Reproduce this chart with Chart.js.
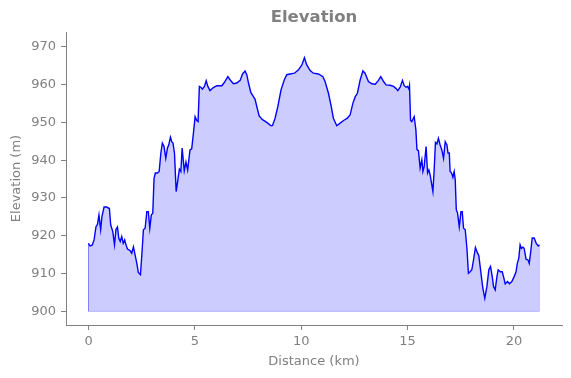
<!DOCTYPE html>
<html><head><meta charset="utf-8">
<script src="https://cdn.jsdelivr.net/npm/chart.js@4.4.1/dist/chart.umd.min.js"></script>
<style>html,body{margin:0;padding:0;background:#fff}canvas{display:block}</style>
</head><body>
<canvas id="c" width="571" height="378"></canvas>
<script>
const distanceKm = [0.00,0.07,0.17,0.26,0.35,0.42,0.49,0.57,0.63,0.73,0.85,0.98,1.04,1.14,1.22,1.29,1.36,1.42,1.49,1.56,1.63,1.70,1.76,1.83,1.95,2.03,2.11,2.19,2.27,2.34,2.44,2.50,2.58,2.66,2.74,2.81,2.88,2.95,3.02,3.08,3.14,3.24,3.32,3.40,3.47,3.55,3.63,3.71,3.77,3.85,3.91,3.97,4.04,4.12,4.20,4.27,4.34,4.40,4.50,4.58,4.66,4.77,4.85,4.93,5.01,5.09,5.15,5.21,5.28,5.35,5.45,5.53,5.61,5.71,5.87,6.03,6.27,6.39,6.55,6.66,6.81,6.97,7.13,7.24,7.36,7.44,7.52,7.63,7.75,7.83,7.91,8.02,8.18,8.38,8.58,8.65,8.77,8.90,9.05,9.20,9.32,9.48,9.68,9.87,10.03,10.15,10.26,10.42,10.57,10.81,11.02,11.12,11.28,11.41,11.51,11.67,11.83,11.99,12.17,12.30,12.43,12.54,12.64,12.77,12.90,13.00,13.16,13.32,13.48,13.63,13.74,13.87,13.99,14.18,14.34,14.45,14.54,14.65,14.76,14.84,14.93,15.00,15.06,15.09,15.14,15.20,15.31,15.39,15.44,15.51,15.59,15.67,15.72,15.78,15.87,15.94,16.00,16.06,16.19,16.25,16.31,16.38,16.45,16.53,16.61,16.69,16.77,16.85,16.90,16.96,17.00,17.07,17.13,17.19,17.24,17.29,17.35,17.43,17.51,17.57,17.63,17.71,17.79,17.86,17.94,18.02,18.10,18.19,18.29,18.35,18.45,18.54,18.63,18.73,18.82,18.90,18.98,19.04,19.12,19.20,19.26,19.36,19.45,19.51,19.59,19.70,19.79,19.90,20.01,20.10,20.16,20.23,20.29,20.35,20.42,20.48,20.57,20.66,20.72,20.79,20.86,20.95,21.05,21.14,21.20];
const elevationM = [918.0,917.3,917.5,918.9,922.4,923.0,925.5,921.6,925.1,927.6,927.6,927.2,922.9,921.1,917.6,921.7,922.3,919.4,918.5,919.8,918.0,918.9,917.6,916.5,916.1,915.4,917.1,914.9,912.7,910.3,909.7,914.5,921.6,922.0,926.4,926.4,922.0,925.5,926.0,935.2,936.6,936.6,937.0,941.9,944.5,943.6,940.5,943.2,944.0,946.1,944.9,944.5,941.9,931.7,934.8,937.6,937.0,943.2,937.2,939.5,937.4,942.7,943.0,947.1,951.5,950.5,950.2,959.5,959.3,958.8,959.5,961.0,959.5,958.4,959.2,959.7,959.7,960.6,962.1,961.2,960.2,960.4,961.1,962.8,963.6,962.6,960.4,957.9,956.8,956.1,954.2,951.7,950.7,950.0,949.1,949.2,951.1,954.2,958.6,961.2,962.6,962.8,963.0,963.9,965.2,967.1,965.2,963.7,963.0,962.8,962.1,960.8,957.7,954.2,951.1,949.1,949.8,950.5,951.1,952.0,955.1,956.8,957.7,961.2,963.6,963.0,960.8,960.2,960.1,961.1,962.1,960.8,959.9,959.8,959.5,959.0,958.4,959.3,961.1,959.7,959.3,959.5,958.8,959.7,950.5,950.2,951.5,948.0,942.8,942.5,937.9,940.1,937.0,938.3,943.6,936.6,937.4,936.1,931.7,937.4,944.7,944.3,945.8,944.0,942.7,940.5,944.9,944.0,941.9,941.9,937.0,936.6,935.5,937.0,934.8,926.9,926.0,922.4,926.4,926.4,922.0,921.6,916.7,910.1,910.5,911.0,913.6,916.9,915.4,914.7,910.1,906.1,903.5,906.6,911.0,911.9,909.2,906.6,905.7,909.2,911.0,910.5,910.5,909.2,907.3,907.9,907.3,907.9,909.2,910.5,912.7,914.1,917.6,916.7,917.0,916.7,913.8,913.6,912.7,915.8,919.4,919.4,918.0,917.3,917.6];
const xTickValues = [0, 5, 10, 15, 20];
const yTickValues = [900, 910, 920, 930, 940, 950, 960, 970];
const baseElevation = 900;
const chartTitle = 'Elevation';
const xAxisTitle = 'Distance (km)';
const yAxisTitle = 'Elevation (m)';

const FONT = "'DejaVu Sans', sans-serif";
const GREY = '#808080';

const profilePoints = distanceKm.map((d, i) => ({x: d, y: elevationM[i]}));
const nLast = distanceKm.length - 1;
const outlinePoints = [
  {x: distanceKm[0], y: elevationM[0]},
  {x: distanceKm[0], y: baseElevation},
  {x: distanceKm[nLast], y: baseElevation},
  {x: distanceKm[nLast], y: elevationM[nLast]}
];

new Chart(document.getElementById('c'), {
  type: 'line',
  data: {
    datasets: [
      {
        data: profilePoints,
        borderColor: '#0000ff',
        borderWidth: 1.4,
        backgroundColor: 'rgba(0,0,255,0.2)',
        fill: {value: baseElevation},
        pointRadius: 0,
        tension: 0,
        order: 0
      },
      {
        data: outlinePoints,
        borderColor: 'rgba(0,0,255,0.2)',
        borderWidth: 1,
        fill: false,
        pointRadius: 0,
        tension: 0,
        order: 1
      }
    ]
  },
  options: {
    responsive: false,
    animation: false,
    devicePixelRatio: 1,
    layout: {padding: {left: 0, right: 9, top: 0, bottom: 0}},
    plugins: {
      legend: {display: false},
      tooltip: {enabled: false},
      title: {display: false}
    },
    scales: {
      xTop: {
        type: 'linear',
        position: 'top',
        min: -1.06,
        max: 22.26,
        afterFit: s => { s.height = 32; },
        grid: {display: false, drawTicks: false},
        border: {display: false},
        ticks: {display: false},
        title: {display: true, text: chartTitle, color: GREY, font: {family: FONT, size: 16.5, weight: 'bold', lineHeight: 1.2}, padding: {top: 8.3, bottom: 0}}
      },
      x: {
        type: 'linear',
        position: 'bottom',
        min: -1.06,
        max: 22.26,
        afterBuildTicks: s => { s.ticks = xTickValues.map(v => ({value: v})); },
        afterFit: s => { s.height = 53; },
        grid: {display: true, drawOnChartArea: false, drawTicks: true, tickLength: 5, color: GREY},
        border: {display: true, color: GREY, width: 1},
        ticks: {color: GREY, font: {family: FONT, size: 13}, padding: 4, maxRotation: 0, autoSkip: false},
        title: {display: true, text: xAxisTitle, color: GREY, font: {family: FONT, size: 13, lineHeight: 1.2}, padding: {top: 0, bottom: 8.5}}
      },
      y: {
        type: 'linear',
        position: 'left',
        min: 896.4,
        max: 973.9,
        afterBuildTicks: s => { s.ticks = yTickValues.map(v => ({value: v})); },
        afterFit: s => { s.width = 66; },
        grid: {display: true, drawOnChartArea: false, drawTicks: true, tickLength: 5, color: GREY},
        border: {display: true, color: GREY, width: 1},
        ticks: {color: GREY, font: {family: FONT, size: 13}, padding: 5, autoSkip: false},
        title: {display: true, text: yAxisTitle, color: GREY, font: {family: FONT, size: 13, lineHeight: 1.2}, padding: {top: 9.2, bottom: 0}}
      }
    }
  }
});
</script>
</body></html>
